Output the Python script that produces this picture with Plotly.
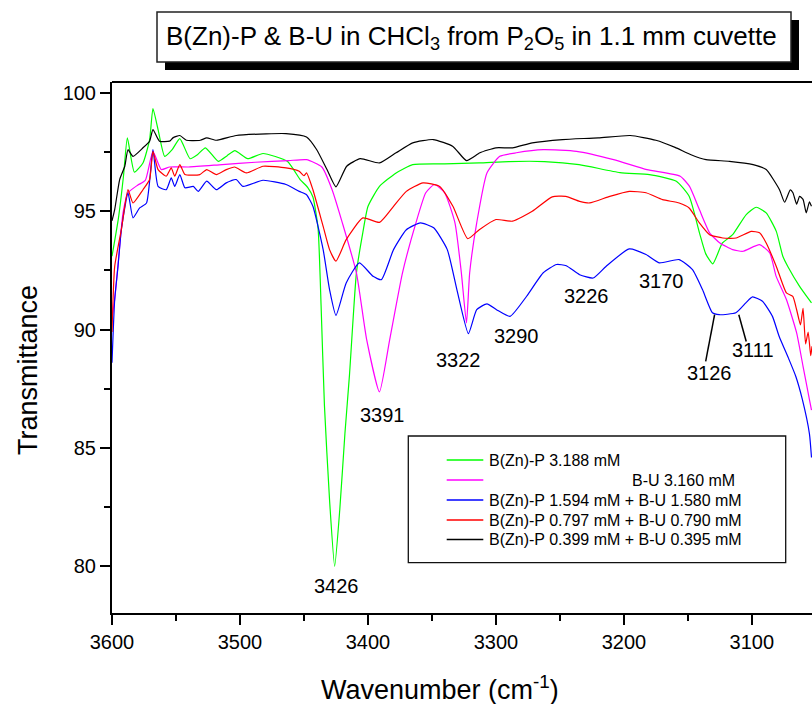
import plotly.graph_objects as go

# ---------------- data ----------------
wn_green = [3600, 3595, 3591, 3588, 3582.5, 3575.8, 3570.6, 3568, 3564, 3558.8, 3553, 3547, 3539, 3533,
            3527, 3517, 3510, 3504, 3494, 3482, 3463, 3453, 3447, 3443, 3439, 3436.6, 3434, 3430, 3426,
            3422, 3418, 3414.4, 3409, 3404, 3400, 3391, 3378, 3365, 3340, 3313, 3290, 3262, 3235, 3203,
            3180, 3159, 3149, 3141, 3136, 3130.5, 3123, 3115, 3104.4, 3096.6, 3088.8, 3080.9, 3075.8,
            3071.9, 3062.7, 3053.4]
t_green = [93.1, 94.7, 96.5, 98.1, 96.65, 97.04, 98.03, 99.34, 98.45, 97.32, 97.6, 98.07, 97.22, 97.4,
           97.68, 97.11, 97.35, 97.56, 97.22, 97.44, 97.11, 96.34, 96.0, 95.6, 94.3, 91.0, 86.8, 82.8, 80.0,
           82.4, 85.6, 88.1, 92.4, 94.1, 95.2, 96.05, 96.62, 96.97, 97.0, 97.04, 97.1, 97.1, 96.97, 96.63,
           96.55, 96.27, 95.63, 94.1, 93.2, 92.78, 93.66, 94.01, 94.86, 95.17, 94.93, 94.15, 93.1,
           92.67, 91.83, 91.13]

wn_magenta = [3600, 3597.9, 3594.5, 3591.4, 3587.5, 3580, 3574, 3568, 3561.5, 3555, 3540, 3514, 3488, 3462,
              3448, 3436, 3428, 3420, 3409, 3401, 3391, 3383, 3373, 3362.5, 3354.8, 3348, 3340, 3332,
              3327, 3323, 3320.5, 3315, 3307, 3297, 3284, 3263, 3237, 3208, 3182, 3156, 3148.7, 3141,
              3133, 3125, 3115, 3107, 3094, 3086, 3081, 3073, 3065, 3060, 3055, 3053.4]
t_magenta = [90.5, 91.27, 93.2, 94.93, 95.78, 96.1, 96.3, 97.53, 96.76, 96.87, 96.87, 96.97, 97.07, 97.14,
             97.18, 96.87, 95.91, 94.51, 92.4, 89.58, 87.37, 89.58, 92.4, 94.51, 95.78, 96.13, 95.78, 94.51,
             92.4, 90.28, 92.4, 94.51, 96.62, 97.32, 97.47, 97.6, 97.53, 97.18, 96.76, 96.48, 96.05, 95.07,
             94.09, 93.66, 93.38, 93.31, 93.59, 93.24, 92.25, 91.27, 89.86, 88.45, 87.04, 86.6]

wn_blue = [3600, 3597.9, 3595.3, 3592.7, 3587.5, 3583.6, 3578.4, 3573, 3568, 3564, 3557.6, 3553.7, 3551,
           3547, 3543, 3536.5, 3532.6, 3526, 3518.5, 3510.7, 3503, 3497.6, 3482, 3464, 3453.7, 3448, 3443,
           3435, 3430, 3425, 3417, 3406.7, 3396, 3389.5, 3380, 3370, 3359, 3348.6, 3338, 3330.5, 3321.5,
           3315, 3307, 3299.5, 3289, 3276, 3263, 3252.6, 3245, 3234.6, 3224, 3214, 3195.8, 3182.7, 3172.4,
           3156.8, 3146.4, 3138.6, 3130.8, 3125.5, 3112.5, 3104.7, 3099.5, 3091.7, 3083.9, 3078.7, 3070.9,
           3065.7, 3060.5, 3055, 3053.4]
t_blue = [88.6, 91.27, 92.67, 94.22, 95.78, 94.72, 95.14, 95.35, 97.6, 96.05, 95.91, 96.41, 96.05,
          96.55, 95.99, 96.05, 95.84, 96.27, 95.91, 96.2, 96.34, 96.05, 96.31, 96.13, 95.84, 95.7, 95.21,
          93.38, 91.69, 90.6, 91.97, 92.82, 92.25, 92.11, 93.38, 94.22, 94.51, 94.3, 93.38, 91.69, 89.83,
          90.84, 91.09, 90.84, 90.56, 91.41, 92.4, 92.75, 92.7, 92.32, 92.18, 92.67, 93.41, 93.17, 92.82,
          92.96, 92.53, 91.69, 90.71, 90.63, 90.71, 91.13, 91.38, 91.2, 90.56, 89.72, 88.73,
          88.03, 87.04, 85.6, 84.6]

wn_red = [3600, 3597.9, 3592.7, 3587.5, 3583.6, 3575.8, 3570.6, 3568, 3564, 3557.6, 3553.7, 3551, 3547,
          3543, 3531.4, 3526, 3518.5, 3510.7, 3504.2, 3495, 3482, 3464, 3453.7, 3450, 3448, 3443, 3435,
          3430, 3425, 3417, 3404, 3391, 3380, 3370, 3357, 3344, 3333.6, 3322, 3313, 3300, 3287, 3271.6,
          3256, 3245.5, 3234.6, 3226.8, 3211, 3195.8, 3182.7, 3169.8, 3156.8, 3149, 3141, 3133, 3122.7,
          3112.3, 3100.5, 3094, 3088.8, 3080.9, 3073, 3068, 3065, 3062, 3060, 3058, 3056, 3054, 3053]
t_red = [89.9, 92.67, 94.22, 95.91, 95.35, 95.91, 96.34, 97.53, 96.76, 96.48, 96.83, 96.48, 96.97,
         96.55, 96.55, 96.76, 96.55, 96.76, 96.87, 96.62, 96.9, 96.83, 96.69, 96.5, 96.62, 95.91, 94.36,
         93.38, 92.89, 93.8, 94.72, 94.53, 95.21, 95.84, 96.2, 96.05, 95.21, 93.84, 94.22, 94.65, 94.58, 95.0,
         95.61, 95.63, 95.42, 95.35, 95.63, 95.84, 95.78, 95.49, 95.35, 95.14, 94.51, 94.01, 93.87,
         93.87, 94.15, 94.09, 93.66, 92.67, 91.55, 91.4, 90.84, 90.2, 90.9, 89.4, 89.9, 88.9, 89.3]

wn_black = [3600, 3597.9, 3594, 3590, 3587.5, 3583.6, 3575.8, 3570.6, 3568, 3562.9, 3555, 3552.4, 3547,
            3541.9, 3531, 3526, 3518.5, 3503, 3479.5, 3464, 3448, 3440, 3432, 3425, 3416.6, 3406, 3391,
            3378, 3365, 3349, 3333.6, 3323, 3312.5, 3300, 3287, 3271.6, 3248, 3220, 3195, 3175, 3160,
            3148, 3135.8, 3117.5, 3099, 3088.8, 3078.4, 3074.4, 3070, 3067.9, 3065, 3062.7, 3060, 3057.5,
            3055, 3053.4]
t_black = [94.6, 95.07, 96.34, 96.9, 97.6, 97.32, 97.68, 97.96, 98.45, 97.96, 97.96, 98.1, 98.2,
           98.0, 98.0, 98.1, 98.0, 98.2, 98.27, 98.28, 98.14, 97.6, 96.76, 96.03, 96.9, 97.22, 97.04,
           97.47, 97.89, 98.03, 97.74, 97.14, 97.47, 97.68, 97.68, 97.89, 98.03, 98.1, 98.2, 98.0, 97.7,
           97.4, 97.18, 97.11, 96.97, 96.76, 95.91, 95.38, 95.9, 95.78, 95.3, 95.63, 95.5, 94.93,
           95.4, 95.21]

series_names = ["B(Zn)-P 3.188 mM",
                "B-U 3.160 mM",
                "B(Zn)-P 1.594 mM + B-U 1.580 mM",
                "B(Zn)-P 0.797 mM + B-U 0.790 mM",
                "B(Zn)-P 0.399 mM + B-U 0.395 mM"]

peak_labels = ["3426", "3391", "3322", "3290", "3226", "3170", "3126", "3111"]

x_tick_values = [3600, 3500, 3400, 3300, 3200, 3100]
y_tick_values = [80, 85, 90, 95, 100]

title_text = "B(Zn)-P &amp; B-U in CHCl<sub>3</sub> from P<sub>2</sub>O<sub>5</sub> in 1.1 mm cuvette"
x_title = "Wavenumber (cm<sup>-1</sup>)"
y_title = "Transmittance"

# ---------------- layout / style ----------------
FONT = "Liberation Sans, Arial, Helvetica, sans-serif"
W, H = 812, 704
L, R, T, B = 112, 0, 82, 91
PW, PH = W - L - R, H - T - B
X_RANGE = [3600, 3053]
Y_RANGE = [78.03, 100.46]


def px(x):
    return (x - L) / PW


def py(y):
    return (H - B - y) / PH


def dx(v):  # data x -> paper
    return (v - X_RANGE[0]) / (X_RANGE[1] - X_RANGE[0])


def dy(v):  # data y -> paper
    return (v - Y_RANGE[0]) / (Y_RANGE[1] - Y_RANGE[0])


colors = ["#00ff00", "#ff00ff", "#0000ff", "#ff0000", "#000000"]
series = [(wn_green, t_green), (wn_magenta, t_magenta), (wn_blue, t_blue),
          (wn_red, t_red), (wn_black, t_black)]

fig = go.Figure()
for (xs, ys), name, col in zip(series, series_names, colors):
    fig.add_trace(go.Scatter(x=xs, y=ys, mode="lines", name=name, showlegend=False,
                             line=dict(color=col, width=1.2, shape="spline", smoothing=0.5)))

shapes = []
annotations = []

# title box with drop shadow
shapes.append(dict(type="rect", xref="paper", yref="paper", x0=px(165), x1=px(799), y0=py(70), y1=py(20),
                   fillcolor="black", line=dict(width=0), layer="above"))
shapes.append(dict(type="rect", xref="paper", yref="paper", x0=px(157), x1=px(791), y0=py(62), y1=py(12),
                   fillcolor="white", line=dict(color="#222", width=1.5), layer="above"))
annotations.append(dict(text=title_text, xref="paper", yref="paper", x=px(472), y=py(37),
                        xanchor="center", yanchor="middle", showarrow=False,
                        font=dict(family=FONT, size=26, color="black")))

# top frame line
shapes.append(dict(type="line", xref="paper", yref="paper", x0=0, x1=1, y0=1, y1=1,
                   line=dict(color="black", width=2)))

# axis titles
annotations.append(dict(text=x_title, xref="paper", yref="paper", x=px(440), y=py(688),
                        xanchor="center", yanchor="middle", showarrow=False,
                        font=dict(family=FONT, size=27, color="black")))
annotations.append(dict(text=y_title, xref="paper", yref="paper", x=px(28), y=py(370),
                        xanchor="center", yanchor="middle", showarrow=False, textangle=-90,
                        font=dict(family=FONT, size=27, color="black")))

# peak labels (positions in wavenumber / transmittance units)
label_pos = [(3424.7, 79.16), (3388.3, 86.41), (3329.4, 88.70), (3284.0, 89.74),
             (3229.1, 91.41), (3170.8, 92.04), (3132.8, 88.17), (3099.2, 89.13)]
for txt, (lx, ly) in zip(peak_labels, label_pos):
    annotations.append(dict(text=txt, xref="paper", yref="paper", x=dx(lx), y=dy(ly),
                            xanchor="center", yanchor="middle",
                            showarrow=False, font=dict(family=FONT, size=20, color="black")))
# leader lines for 3126 and 3111
for (x0, y0, x1, y1) in [(3129.1, 90.63, 3136.1, 88.66), (3110.2, 90.63, 3104.4, 89.5)]:
    shapes.append(dict(type="line", xref="x", yref="y", x0=x0, y0=y0, x1=x1, y1=y1,
                       line=dict(color="black", width=1.5)))

# legend (drawn manually to mimic the original layout)
shapes.append(dict(type="rect", xref="paper", yref="paper", x0=px(408.3), x1=px(785.7),
                   y0=py(562.7), y1=py(436), fillcolor="white", line=dict(color="#111", width=1.3),
                   layer="above"))
row_y = [460, 480, 500, 520, 539.5]
text_x = [487.3, 630, 487.3, 487.3, 487.3]
for name, col, ry, tx in zip(series_names, colors, row_y, text_x):
    shapes.append(dict(type="line", xref="paper", yref="paper", x0=px(446.7), x1=px(483.3),
                       y0=py(ry), y1=py(ry), line=dict(color=col, width=1.3)))
    annotations.append(dict(text=name, xref="paper", yref="paper", x=px(tx), y=py(ry),
                            xanchor="left", yanchor="middle", showarrow=False,
                            font=dict(family=FONT, size=16, color="black")))

axis_common = dict(showline=True, linecolor="black", linewidth=2, ticks="outside", ticklen=10,
                   tickwidth=2, tickcolor="black", showgrid=False, zeroline=False,
                   tickfont=dict(family=FONT, size=20, color="black"))

fig.update_layout(
    width=W, height=H, margin=dict(l=L, r=R, t=T, b=B, pad=0),
    paper_bgcolor="white", plot_bgcolor="white",
    showlegend=False,
    xaxis=dict(range=X_RANGE, tickmode="array", tickvals=x_tick_values,
               ticktext=[str(v) for v in x_tick_values],
               minor=dict(tickvals=[3550, 3450, 3350, 3250, 3150], ticks="outside", ticklen=6,
                          tickwidth=2, tickcolor="black"),
               **axis_common),
    yaxis=dict(range=Y_RANGE, tickmode="array", tickvals=y_tick_values,
               ticktext=[str(v) for v in y_tick_values],
               minor=dict(tickvals=[77.5, 82.5, 87.5, 92.5, 97.5], ticks="outside", ticklen=6,
                          tickwidth=2, tickcolor="black"),
               **axis_common),
    shapes=shapes, annotations=annotations,
)

fig.write_html("out.html")
